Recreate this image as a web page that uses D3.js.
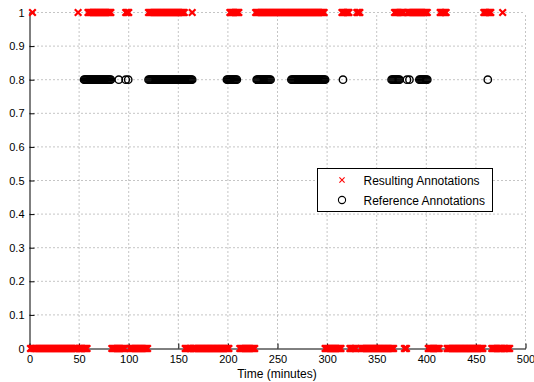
<!DOCTYPE html>
<html>
<head>
<meta charset="utf-8">
<script src="https://cdn.jsdelivr.net/npm/d3@7"></script>
<style>
  body { margin: 0; background: #fff; }
  svg { display: block; font-family: "Liberation Sans", Arial, sans-serif; }
</style>
</head>
<body>
<div id="chart"></div>
<script>
  // samples are one per minute
  const sampleTimes = [1, 484];
  // minutes where the resulting annotation is 1 (rest is 0)
  const resultingOn = [[3, 3], [49, 49], [59, 82], [97, 100], [120, 156], [164, 164],
    [202, 211], [228, 297], [315, 322], [330, 333], [368, 377], [381, 401],
    [414, 420], [458, 465], [477, 477]];
  // minutes with a reference annotation (drawn at 0.8)
  const referenceOn = [[55, 82], [90, 90], [97, 97], [99.5, 99.5], [120, 164], [199, 209],
    [229, 243], [264, 298], [316, 316], [365, 373], [380.5, 380.5], [383, 383],
    [393, 401], [462, 462]];
  const referenceLevel = 0.8;
  const xTicks = [0, 50, 100, 150, 200, 250, 300, 350, 400, 450, 500];
  const yTicks = [0, 0.1, 0.2, 0.3, 0.4, 0.5, 0.6, 0.7, 0.8, 0.9, 1];
  const legendLabels = ['Resulting Annotations', 'Reference Annotations'];

  const width = 534, height = 382;
  const svg = d3.select('#chart').append('svg')
    .attr('width', width).attr('height', height);

  const x = d3.scaleLinear().domain([0, 500]).range([29.5, 525.5]);
  const y = d3.scaleLinear().domain([0, 1]).range([348.5, 12.5]);

  // build the series from the intervals
  let inAny = (t, list) => list.some(r => t >= r[0] && t <= r[1]);
  let resulting = d3.range(sampleTimes[0], sampleTimes[1] + 1)
    .map(t => ({t: t, v: inAny(t, resultingOn) ? 1 : 0}));
  let reference = [];
  referenceOn.forEach(r => {
    d3.range(r[0], r[1] + 1).forEach(t => reference.push({t: t, v: referenceLevel}));
  });

  // grid
  let grid = svg.append('g').attr('stroke', '#8a8a8a').attr('stroke-width', 1)
    .attr('stroke-dasharray', '1,3');
  grid.selectAll('.gx').data(xTicks.filter(d => d > 0)).enter().append('line')
    .attr('x1', d => x(d)).attr('x2', d => x(d))
    .attr('y1', y(0)).attr('y2', y(1));
  grid.selectAll('.gy').data(yTicks.filter(d => d > 0)).enter().append('line')
    .attr('x1', x(0)).attr('x2', x(500))
    .attr('y1', d => y(d)).attr('y2', d => y(d));

  // axes, ticks pointing inward
  let xAxis = svg.append('g').attr('transform', `translate(0,${y(0)})`)
    .call(d3.axisBottom(x).tickValues(xTicks).tickFormat(d3.format('d'))
      .tickSizeInner(-5).tickSizeOuter(0).tickPadding(7));
  let yAxis = svg.append('g').attr('transform', `translate(${x(0)},0)`)
    .call(d3.axisLeft(y).tickValues(yTicks).tickFormat(d => d === 0 || d === 1 ? d : d.toFixed(1))
      .tickSizeInner(-5).tickSizeOuter(0).tickPadding(5));
  [xAxis, yAxis].forEach(a => {
    a.selectAll('text').attr('font-size', 11).attr('fill', '#000')
      .attr('font-family', '"Liberation Sans", Arial, sans-serif');
    a.selectAll('line, path').attr('stroke', '#000');
  });

  svg.append('text').attr('x', 277).attr('y', 378).attr('text-anchor', 'middle')
    .attr('font-size', 12).text('Time (minutes)');

  // markers
  let cross = (g, s, w) => g.append('path')
    .attr('d', `M${-s},${-s}L${s},${s}M${-s},${s}L${s},${-s}`)
    .attr('stroke', '#ff0000').attr('stroke-width', w).attr('fill', 'none');

  let marks = svg.append('g');
  marks.selectAll('.res').data(resulting).enter().append('g')
    .attr('transform', d => `translate(${x(d.t)},${y(d.v)})`)
    .each(function() { cross(d3.select(this), 3.3, 2.2); });

  marks.selectAll('.ref').data(reference).enter().append('circle')
    .attr('cx', d => x(d.t)).attr('cy', d => y(d.v)).attr('r', 3.7)
    .attr('fill', 'none').attr('stroke', '#000').attr('stroke-width', 1.4);

  // legend
  let legend = svg.append('g').attr('transform', 'translate(317.5,168.5)');
  legend.append('rect').attr('width', 175).attr('height', 43)
    .attr('fill', '#fff').attr('stroke', '#000').attr('stroke-width', 1);
  legendLabels.forEach((lbl, i) => {
    let row = legend.append('g').attr('transform', `translate(0,${11.5 + i * 20})`);
    if (i === 0) cross(row.append('g').attr('transform', 'translate(24.5,0)'), 2.6, 1.1);
    else row.append('circle').attr('cx', 24.5).attr('r', 3.6)
      .attr('fill', 'none').attr('stroke', '#000').attr('stroke-width', 1.1);
    row.append('text').attr('x', 46).attr('y', 4.5).attr('font-size', 12).text(lbl);
  });
</script>
</body>
</html>
